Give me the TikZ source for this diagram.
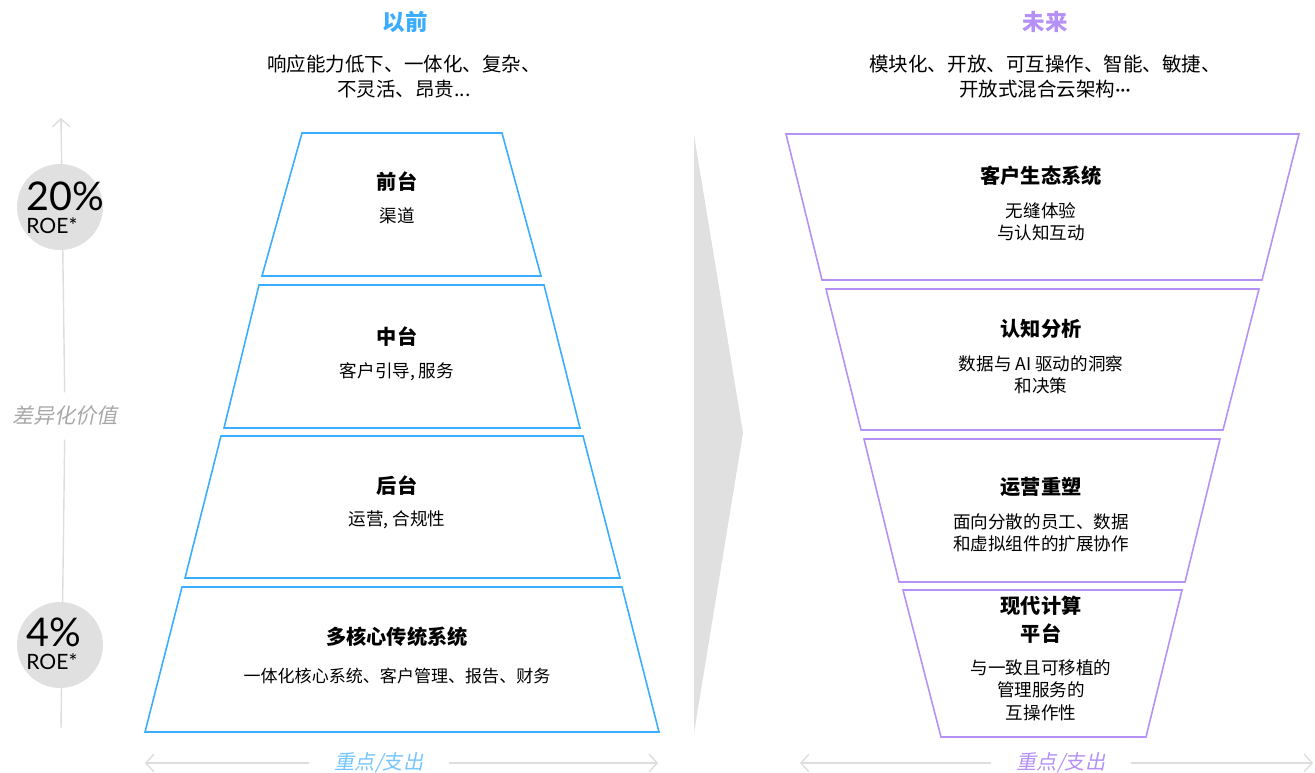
\documentclass[tikz,border=0pt]{standalone}
\usepackage{fontspec}
\setmainfont{Noto Sans CJK SC}
\newfontfamily\schraeg[FakeSlant=0.2]{Noto Sans CJK SC}
\newfontfamily\zahlfont{Lato}
\usetikzlibrary{positioning,arrows.meta}
\definecolor{altblau}{HTML}{3AADFF}
\definecolor{neulila}{HTML}{B590F7}
\definecolor{achsgrau}{HTML}{DDDDDD}
\definecolor{kreisgrau}{HTML}{E0E0E0}
\definecolor{etikettgrau}{HTML}{A8A8A8}
\tikzset {
ebene alt/.style={draw=altblau,line width=0.9pt},
ebene neu/.style={draw=neulila,line width=0.9pt},
titel/.style={font=\bfseries\fontsize{11.5pt}{16pt}\selectfont,align=center,inner sep=0pt},
inhalt/.style={font=\fontsize{10pt}{12.8pt}\selectfont,align=center,inner sep=0pt},
kopf/.style={font=\bfseries\fontsize{12.8pt}{15pt}\selectfont,inner sep=0pt},
unterkopf/.style={font=\fontsize{11.1pt}{14.2pt}\selectfont,align=center,inner sep=0pt},
achse/.style={draw=achsgrau,line width=0.8pt},
spitze/.style={-{Straight Barb[length=4.5pt,width=10pt]}},
kreis/.style={circle,fill=kreisgrau,minimum size=1.72cm,inner sep=0pt},
wert/.style={font=\zahlfont\fontsize{22.5pt}{22.5pt}\selectfont,anchor=west,inner sep=0pt},
roe/.style={font=\zahlfont\fontsize{12pt}{12pt}\selectfont,anchor=west,inner sep=0pt},
achsenetikett/.style={font=\schraeg\fontsize{11.5pt}{12pt}\selectfont,inner xsep=0.5cm,inner ysep=0pt}
}

\begin{document}
\begin{tikzpicture}
[x=0.02cm,y=-0.02cm]
\useasboundingbox (0,0) rectangle (1315,772);

% Kopfzeilen
\node[kopf,text=altblau] (kopf alt) at (405,22) {以前};
\node[unterkopf] (merkmale alt) at (404,77) {响应能力低下、一体化、复杂、\\不灵活、昂贵...};
\node[kopf,text=neulila] (kopf neu) at (1045,22) {未来};
\node[unterkopf] (merkmale neu) at (1045,77) {模块化、开放、可互操作、智能、敏捷、\\开放式混合云架构{\zahlfont ···}};

% Achse links
\coordinate (achse oben) at (61,118);
\coordinate (achse unten) at (61,728);
\node[font=\schraeg\fontsize{12pt}{12pt}\selectfont,text=etikettgrau,inner xsep=0pt,inner ysep=0.27cm] (differenzierung) at (65,416) {差异化价值};
\draw[achse] (achse unten) -- (differenzierung);
\draw[achse,spitze] (differenzierung) -- (achse oben);
\node[kreis] (roe hoch) at (60,207) {};
\node[kreis] (roe tief) at (60,645) {};
\node[wert] (roe hoch wert) at (26,196) {20\%};
\node[roe] (roe hoch text) at (26,226) {ROE*};
\node[wert] (roe tief wert) at (26,632) {4\%};
\node[roe] (roe tief text) at (26,662) {ROE*};

% Pyramide alt
\draw[ebene alt] (302,133) -- (502,133) -- (541,276) -- (262,276) -- cycle;
\draw[ebene alt] (259,285) -- (544,285) -- (580,428) -- (224,428) -- cycle;
\draw[ebene alt] (221,436) -- (583,436) -- (620,578) -- (185,578) -- cycle;
\draw[ebene alt] (182,587) -- (622,587) -- (659,732) -- (145,732) -- cycle;
\node[titel] (vorne titel) at (397,182) {前台};
\node[inhalt] (vorne text) at (397,216) {渠道};
\node[titel] (mitte titel) at (397,337) {中台};
\node[inhalt] (mitte text) at (397,372) {客户引导, 服务};
\node[titel] (hinten titel) at (397,486) {后台};
\node[inhalt] (hinten text) at (397,520) {运营, 合规性};
\node[titel] (kern titel) at (397,637) {多核心传统系统};
\node[inhalt,font=\fontsize{9.7pt}{12.8pt}\selectfont] (kern text) at (397,676) {一体化核心系统、客户管理、报告、财务};

% Uebergang
\fill[kreisgrau] (694,135) -- (743,433) -- (694,733) -- cycle;

% Pyramide neu
\draw[ebene neu] (786,134) -- (1299,134) -- (1262,280) -- (822,280) -- cycle;
\draw[ebene neu] (826,289) -- (1259,289) -- (1223,430) -- (861,430) -- cycle;
\draw[ebene neu] (864,439) -- (1220,439) -- (1185,582) -- (899,582) -- cycle;
\draw[ebene neu] (903,590) -- (1182,590) -- (1146,737) -- (941,737) -- cycle;
\node[titel] (oekosystem titel) at (1041,176) {客户生态系统};
\node[inhalt] (oekosystem text) at (1041,222) {无缝体验\\与认知互动};
\node[titel] (analyse titel) at (1041,329) {认知分析};
\node[inhalt] (analyse text) at (1041,375) {数据与 AI 驱动的洞察\\和决策};
\node[titel] (betrieb titel) at (1041,487) {运营重塑};
\node[inhalt] (betrieb text) at (1041,533) {面向分散的员工、数据\\和虚拟组件的扩展协作};
\node[titel] (plattform titel) at (1041,620) {现代计算\\平台};
\node[inhalt] (plattform text) at (1041,690) {与一致且可移植的\\管理服务的\\互操作性};

% Achsen unten
\coordinate (alt links) at (145,763);
\coordinate (alt rechts) at (658,763);
\node[achsenetikett,text=altblau!70] (aufwand alt) at (379,763) {重点/支出};
\draw[achse,spitze] (aufwand alt) -- (alt links);
\draw[achse,spitze] (aufwand alt) -- (alt rechts);
\coordinate (neu links) at (800,763);
\coordinate (neu rechts) at (1313,763);
\node[achsenetikett,text=neulila] (aufwand neu) at (1061,763) {重点/支出};
\draw[achse,spitze] (aufwand neu) -- (neu links);
\draw[achse,spitze] (aufwand neu) -- (neu rechts);
\end{tikzpicture}
\end{document}
